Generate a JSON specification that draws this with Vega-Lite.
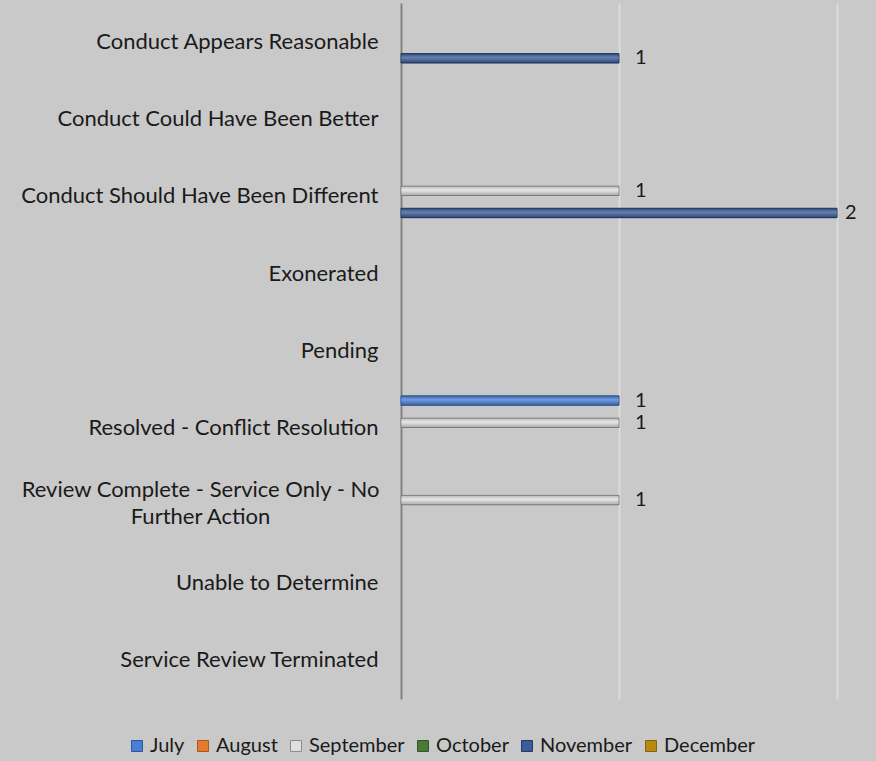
{
  "$schema": "https://vega.github.io/schema/vega-lite/v6.json",
  "width": 436,
  "height": 696,
  "autosize": {"type": "none"},
  "padding": {"left": 401, "top": 3, "right": 39, "bottom": 62},
  "background": "#c9c9c9",
  "config": {
    "view": {"stroke": null},
    "font": "Lato",
    "text": {"font": "Lato"}
  },
  "data": {
    "values": [
      {"cat": "Conduct Appears Reasonable", "month": "November", "v": 1},
      {"cat": "Conduct Should Have Been Different", "month": "September", "v": 1},
      {"cat": "Conduct Should Have Been Different", "month": "November", "v": 2},
      {"cat": "Resolved - Conflict Resolution", "month": "July", "v": 1},
      {"cat": "Resolved - Conflict Resolution", "month": "September", "v": 1},
      {"cat": "Review Complete - Service Only - No Further Action", "month": "September", "v": 1}
    ]
  },
  "encoding": {
    "y": {
      "field": "cat",
      "type": "nominal",
      "sort": null,
      "scale": {
        "domain": [
          "Conduct Appears Reasonable",
          "Conduct Could Have Been Better",
          "Conduct Should Have Been Different",
          "Exonerated",
          "Pending",
          "Resolved - Conflict Resolution",
          "Review Complete - Service Only - No Further Action",
          "Unable to Determine",
          "Service Review Terminated"
        ],
        "paddingInner": 0.16,
        "paddingOuter": 0.08
      },
      "axis": {
        "title": null,
        "ticks": false,
        "grid": false,
        "domain": true,
        "domainColor": "#7f7f7f",
        "domainWidth": 2,
        "labelFont": "Lato",
        "labelFontSize": 22,
        "labelColor": "#1a1a1a",
        "labelLimit": 400,
        "labelLineHeight": 27,
        "labelExpr": "datum.value == 'Review Complete - Service Only - No Further Action' ? ['Review Complete - Service Only - No', 'Further Action'] : datum.label",
        "labelAlign": {"condition": {"test": "datum.value == 'Review Complete - Service Only - No Further Action'", "value": "center"}, "value": "right"},
        "labelPadding": {"condition": {"test": "datum.value == 'Review Complete - Service Only - No Further Action'", "value": 201}, "value": 23},
        "labelOffset": {"condition": {"test": "datum.value == 'Review Complete - Service Only - No Further Action'", "value": -16}, "value": 0}
      }
    },
    "yOffset": {
      "field": "month",
      "type": "nominal",
      "scale": {
        "domain": ["July", "August", "September", "October", "November", "December"],
        "paddingInner": 0.15,
        "paddingOuter": 0
      }
    },
    "x": {
      "field": "v",
      "type": "quantitative",
      "scale": {"domain": [0, 2], "nice": false},
      "axis": {
        "title": null,
        "labels": false,
        "ticks": false,
        "domain": false,
        "values": [0, 1, 2],
        "grid": true,
        "gridColor": "#dcdcdc",
        "gridWidth": 2
      }
    }
  },
  "layer": [
    {
      "mark": {"type": "bar", "strokeWidth": 1},
      "encoding": {
        "fill": {
          "field": "month",
          "type": "nominal",
          "scale": {
            "domain": ["July", "August", "September", "October", "November", "December"],
            "range": ["#4a7fd8", "#e37a30", "#e0e0e0", "#4a7a36", "#3a5c9a", "#b88a10"]
          },
          "legend": {
            "title": null,
            "orient": "none",
            "direction": "horizontal",
            "legendX": -274,
            "legendY": 733,
            "symbolType": "square",
            "symbolSize": 120,
            "symbolStrokeWidth": 1,
            "labelFont": "Lato",
            "labelFontSize": 20,
            "labelColor": "#1a1a1a",
            "labelOffset": 3,
            "columnPadding": 8
          }
        },
        "stroke": {
          "field": "month",
          "type": "nominal",
          "scale": {
            "domain": ["July", "August", "September", "October", "November", "December"],
            "range": ["#2f5596", "#a9561c", "#8a8a8a", "#335524", "#22385f", "#85630a"]
          },
          "legend": {
            "title": null,
            "orient": "none",
            "direction": "horizontal",
            "legendX": -274,
            "legendY": 733,
            "symbolType": "square",
            "symbolSize": 120,
            "symbolStrokeWidth": 1,
            "labelFont": "Lato",
            "labelFontSize": 20,
            "labelColor": "#1a1a1a",
            "labelOffset": 3,
            "columnPadding": 8
          }
        }
      }
    },
    {
      "mark": {
        "type": "bar",
        "fill": {
          "gradient": "linear", "x1": 0, "y1": 0, "x2": 0, "y2": 1,
          "stops": [
            {"offset": 0, "color": "rgba(0,0,0,0.18)"},
            {"offset": 0.4, "color": "rgba(255,255,255,0.22)"},
            {"offset": 1, "color": "rgba(0,0,0,0.25)"}
          ]
        },
        "stroke": null
      },
      "encoding": {}
    },
    {
      "mark": {"type": "text", "align": "left", "baseline": "middle", "dx": {"expr": "datum.v == 2 ? 8 : 16"}, "fontSize": 20, "font": "Lato", "color": "#1a1a1a"},
      "encoding": {
        "text": {"field": "v", "type": "quantitative"}
      }
    }
  ]
}
